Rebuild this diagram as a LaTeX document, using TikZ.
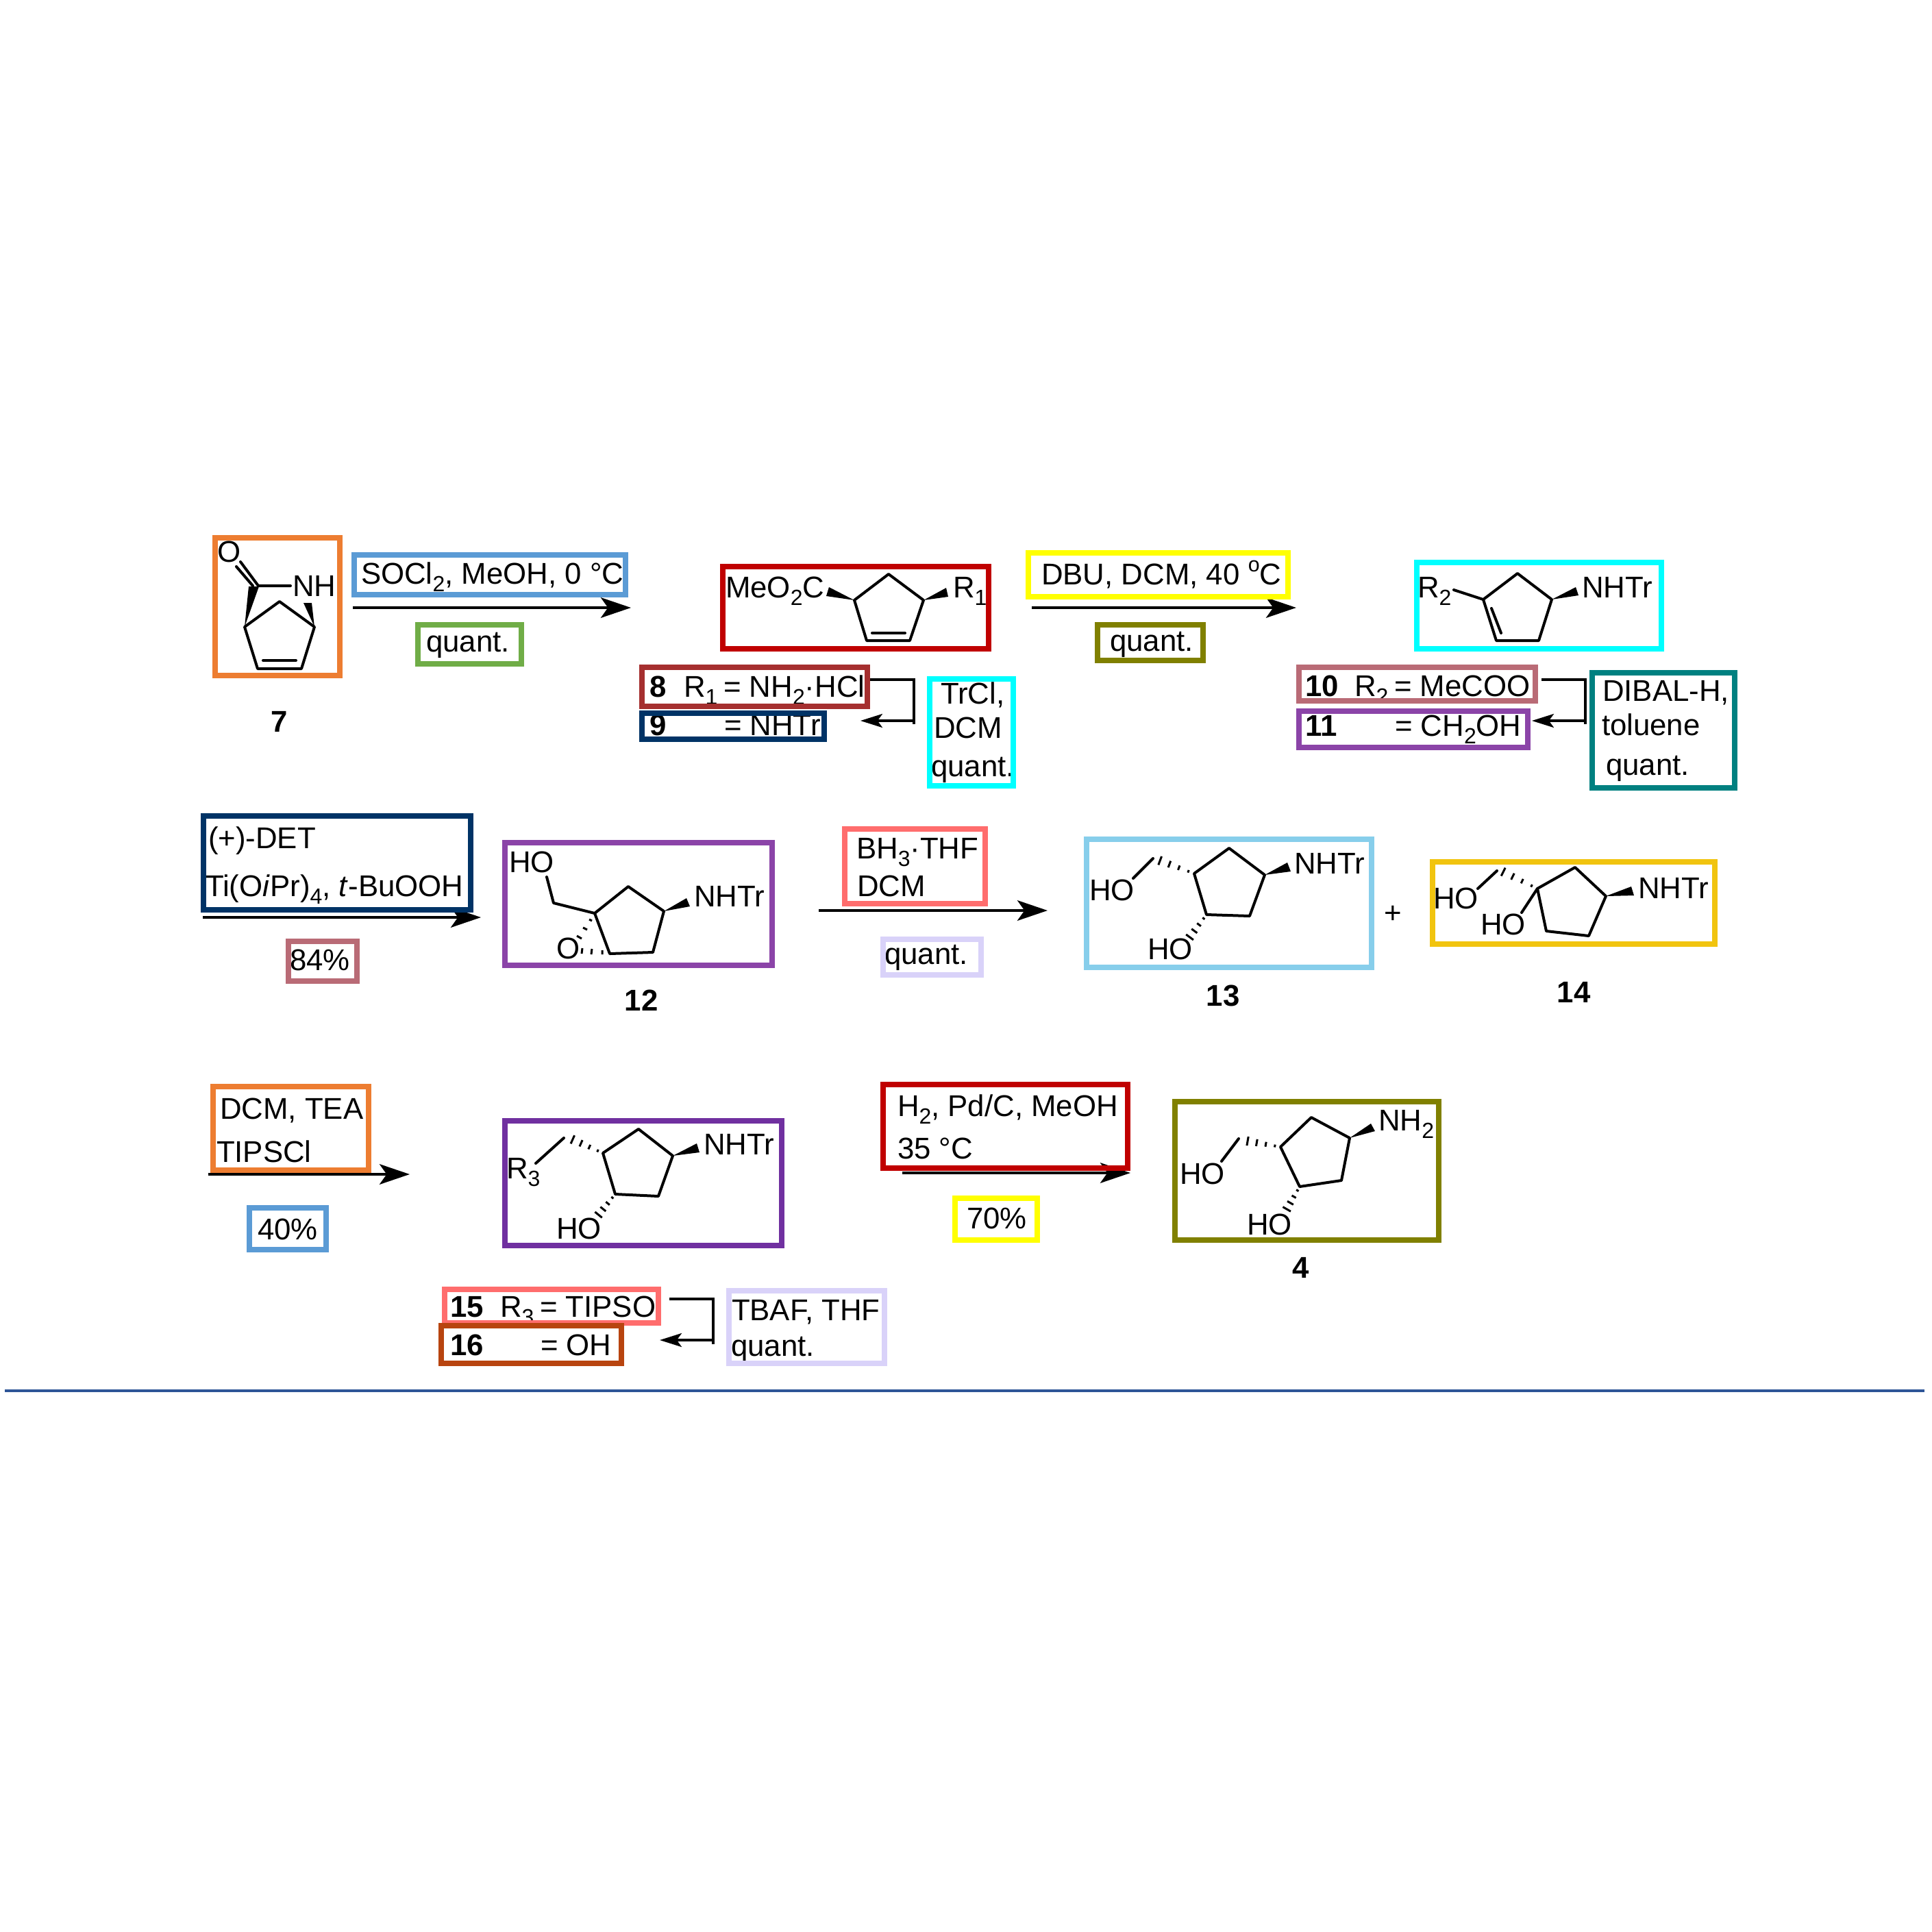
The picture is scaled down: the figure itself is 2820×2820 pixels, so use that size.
\documentclass[tikz,border=0pt]{standalone}
\usepackage{fontspec}
\setmainfont{Liberation Sans}
\usetikzlibrary{calc,arrows.meta}
\newcommand{\chemf}{\fontsize{10.95}{12}\selectfont}
\newcommand{\subs}[1]{\raisebox{-0.27em}{\fontsize{8}{9}\selectfont #1}}
\definecolor{cOrange}{HTML}{ED7D31}
\definecolor{cBlue}{HTML}{5B9BD5}
\definecolor{cGreen}{HTML}{70AD47}
\definecolor{cDarkRed}{HTML}{C00000}
\definecolor{cBrown}{HTML}{A52F2F}
\definecolor{cNavy}{HTML}{003366}
\definecolor{cCyan}{HTML}{00FFFF}
\definecolor{cYellow}{HTML}{FFFF00}
\definecolor{cOlive}{HTML}{808000}
\definecolor{cRose}{HTML}{B96B76}
\definecolor{cPurple}{HTML}{8B44A8}
\definecolor{cTeal}{HTML}{008080}
\definecolor{cSky}{HTML}{87CEEB}
\definecolor{cGold}{HTML}{F1C40F}
\definecolor{cPink}{HTML}{FF6D6D}
\definecolor{cLav}{HTML}{D9D2F9}
\definecolor{cDeep}{HTML}{7030A0}
\definecolor{cRust}{HTML}{B8440F}
\definecolor{cRule}{HTML}{2E5597}
\tikzset{
  txt/.style={anchor=base west,inner sep=0pt,outer sep=0pt,font=\chemf,xshift=-0.5pt},
  lbl/.style={anchor=base,inner sep=0pt,outer sep=0pt,font=\chemf\bfseries},
  blbl/.style={anchor=base west,inner sep=0pt,outer sep=0pt,font=\chemf\bfseries,xshift=-0.4pt},
  bond/.style={line width=1pt,line join=round,line cap=round},
  hashline/.style={line width=0.75pt},
  rxn/.style={line width=1pt,-{Stealth[length=11pt,width=7.4pt,inset=2.6pt]}},
  back/.style={line width=0.8pt,-{Stealth[length=8pt,width=5pt,inset=1.8pt]}},
  framed/.style={rectangle,line width=2pt,inner sep=0pt,outer sep=0pt}
}
\newcommand{\framebx}[6]{\node[framed,draw=#2,minimum width={(#5-#3)*0.25pt},minimum height={(#6-#4)*0.25pt}] (#1) at ({(#3+#5)/2},{(#4+#6)/2}) {};}
\newcommand{\hashb}[2]{\foreach \t in {0.16,0.42,0.68,0.94}{\pgfmathsetmacro{\w}{0.25*(1+6*\t)}\draw[hashline] ($(#1)!\t!(#2)!\w pt!90:(#2)$) -- ($(#1)!\t!(#2)!\w pt!-90:(#2)$);}}
\begin{document}
\begin{tikzpicture}[x=0.25pt,y=-0.25pt]
\useasboundingbox (0,0) rectangle (2820,2820);
\fill[white] (0,0) rectangle (2820,2820);

% ---------- rule
\coordinate (ruleA) at (7,2030);
\coordinate (ruleB) at (2809,2030);
\draw[cRule,line width=0.85pt] (ruleA) -- (ruleB);

% ---------- reaction arrows
\coordinate (a1s) at (515,887); \coordinate (a1e) at (921,887);
\coordinate (a2s) at (1506,887); \coordinate (a2e) at (1892,887);
\coordinate (a3s) at (296,1339); \coordinate (a3e) at (702,1339);
\coordinate (a4s) at (1195,1329); \coordinate (a4e) at (1529,1329);
\coordinate (a5s) at (304,1714); \coordinate (a5e) at (598,1714);
\coordinate (a6s) at (1317,1712); \coordinate (a6e) at (1650,1712);
\draw[rxn] (a1s) -- (a1e);
\draw[rxn] (a2s) -- (a2e);
\draw[rxn] (a3s) -- (a3e);
\draw[rxn] (a4s) -- (a4e);
\draw[rxn] (a5s) -- (a5e);
\draw[rxn] (a6s) -- (a6e);

% ---------- bracket arrows
\coordinate (k1a) at (1270,992); \coordinate (k1b) at (1334,992); \coordinate (k1c) at (1334,1057);
\coordinate (k1d) at (1334,1052); \coordinate (k1e) at (1256,1052);
\draw[line width=0.8pt] (k1a) -- (k1b) -- (k1c);
\draw[back] (k1d) -- (k1e);
\coordinate (k2a) at (2250,992); \coordinate (k2b) at (2314,992); \coordinate (k2c) at (2314,1057);
\coordinate (k2d) at (2314,1052); \coordinate (k2e) at (2236,1052);
\draw[line width=0.8pt] (k2a) -- (k2b) -- (k2c);
\draw[back] (k2d) -- (k2e);
\coordinate (k3a) at (977,1896); \coordinate (k3b) at (1041,1896); \coordinate (k3c) at (1041,1962);
\coordinate (k3d) at (1041,1956); \coordinate (k3e) at (963,1956);
\draw[line width=0.8pt] (k3a) -- (k3b) -- (k3c);
\draw[back] (k3d) -- (k3e);

% ---------- molecule 7
\coordinate (c7) at (377,855); \coordinate (c7n) at (424,855);
\coordinate (o7a) at (351,820); \coordinate (o7b) at (345,827); \coordinate (c7b) at (369,855);
\coordinate (r7a) at (357,915); \coordinate (r7b) at (376,976); \coordinate (r7c) at (440,976);
\coordinate (r7d) at (459,915); \coordinate (r7e) at (408,878);
\coordinate (r7f) at (384,964); \coordinate (r7g) at (432,964);
\draw[bond] (o7a) -- (c7) -- (c7n);
\draw[bond] (o7b) -- (c7b);
\draw[bond] (r7e) -- (r7a) -- (r7b) -- (r7c) -- (r7d) -- cycle;
\draw[bond] (r7f) -- (r7g);
\fill (r7a) -- (363,856) -- (378,856) -- cycle;
\fill (r7d) -- (443,880) -- (455,880) -- cycle;
\node[txt] (tO7) at (319,820) {O};
\node[txt] (tNH7) at (429,870) {NH};
\node[lbl] (l7) at (408,1068) {7};

% ---------- molecule 8/9
\coordinate (r8a) at (1247,876); \coordinate (r8b) at (1297,838); \coordinate (r8c) at (1348,876);
\coordinate (r8d) at (1328,935); \coordinate (r8e) at (1265,935);
\coordinate (r8f) at (1273,924); \coordinate (r8g) at (1321,924);
\draw[bond] (r8a) -- (r8b) -- (r8c) -- (r8d) -- (r8e) -- cycle;
\draw[bond] (r8f) -- (r8g);
\fill (r8a) -- (1210,857) -- (1206,870) -- cycle;
\fill (r8c) -- (1381,858) -- (1384,871) -- cycle;
\node[txt] (tMe) at (1061,872) {MeO\subs{2}C};
\node[txt] (tR1) at (1393,872) {R\subs{1}};
\node[blbl] (l8) at (950,1017) {8};
\node[txt] (t8a) at (1000,1017) {R\subs{1}};
\node[txt] (t8b) at (1058,1017) {= NH\subs{2}·HCl};
\node[blbl] (l9) at (950,1073) {9};
\node[txt] (t9b) at (1059,1073) {= NHTr};
\node[txt] (tTr1) at (1375,1027) {TrCl,};
\node[txt] (tTr2) at (1365,1077) {DCM};
\node[txt] (tTr3) at (1361,1133) {quant.};

% ---------- molecule 10/11
\coordinate (r10a) at (2165,875); \coordinate (r10b) at (2215,837); \coordinate (r10c) at (2265,875);
\coordinate (r10d) at (2246,935); \coordinate (r10e) at (2184,935);
\coordinate (r10f) at (2177,888); \coordinate (r10g) at (2191,924); \coordinate (r10h) at (2122,861);
\draw[bond] (r10a) -- (r10b) -- (r10c) -- (r10d) -- (r10e) -- cycle;
\draw[bond] (r10f) -- (r10g);
\draw[bond] (r10a) -- (r10h);
\fill (r10c) -- (2300,857) -- (2304,869) -- cycle;
\node[txt] (tR2) at (2071,872) {R\subs{2}};
\node[txt] (tNH10) at (2311,872) {NHTr};
\node[blbl] (l10) at (1907,1016) {10};
\node[txt] (t10a) at (1979,1016) {R\subs{2}};
\node[txt] (t10b) at (2037,1016) {= MeCOO};
\node[blbl] (l11) at (1907,1074) {11};
\node[txt] (t11b) at (2038,1074) {= CH\subs{2}OH};
\node[txt] (tDi1) at (2341,1023) {DIBAL-H,};
\node[txt] (tDi2) at (2340,1073) {toluene};
\node[txt] (tDi3) at (2346,1131) {quant.};

% ---------- molecule 12
\coordinate (r12a) at (868,1333); \coordinate (r12b) at (917,1294); \coordinate (r12c) at (969,1330);
\coordinate (r12d) at (953,1390); \coordinate (r12e) at (890,1392);
\coordinate (s12a) at (808,1318); \coordinate (s12b) at (798,1280);
\draw[bond] (r12a) -- (r12b) -- (r12c) -- (r12d) -- (r12e) -- cycle;
\draw[bond] (r12a) -- (s12a) -- (s12b);
\fill (r12c) -- (1002,1311) -- (1007,1323) -- cycle;
\draw[hashline] (860,1342) -- (864,1344) (851,1354) -- (857,1357) (842,1366) -- (849,1370);
\draw[hashline] (879,1387) -- (879,1393) (864,1385) -- (863,1393) (850,1384) -- (849,1392);
\node[txt] (tHO12) at (745,1273) {HO};
\node[txt] (tNH12) at (1015,1323) {NHTr};
\node[txt] (tO12) at (814,1399) {O};
\node[lbl] (l12) at (936,1475) {12};

% ---------- molecule 13
\coordinate (r13a) at (1743,1275); \coordinate (r13b) at (1794,1238); \coordinate (r13c) at (1846,1277);
\coordinate (r13d) at (1824,1337); \coordinate (r13e) at (1761,1335);
\coordinate (h13a) at (1690,1255); \coordinate (s13a) at (1683,1253); \coordinate (s13b) at (1654,1282);
\coordinate (h13b) at (1735,1370);
\draw[bond] (r13a) -- (r13b) -- (r13c) -- (r13d) -- (r13e) -- cycle;
\draw[bond] (s13a) -- (s13b);
\fill (r13c) -- (1879,1259) -- (1884,1272) -- cycle;
\hashb{r13a}{h13a}
\hashb{r13e}{h13b}
\node[txt] (tHO13a) at (1592,1314) {HO};
\node[txt] (tHO13b) at (1677,1400) {HO};
\node[txt] (tNH13) at (1891,1275) {NHTr};
\node[lbl] (l13) at (1785,1468) {13};
\node[anchor=center,inner sep=0pt,font=\chemf] (tPlus) at (2033,1335) {+};

% ---------- molecule 14
\coordinate (r14a) at (2244,1297); \coordinate (r14b) at (2299,1266); \coordinate (r14c) at (2344,1308);
\coordinate (r14d) at (2319,1366); \coordinate (r14e) at (2257,1359);
\coordinate (h14a) at (2191,1271); \coordinate (s14a) at (2185,1271); \coordinate (s14b) at (2157,1297);
\coordinate (s14c) at (2221,1332);
\draw[bond] (r14a) -- (r14b) -- (r14c) -- (r14d) -- (r14e) -- cycle;
\draw[bond] (s14a) -- (s14b);
\draw[bond] (r14a) -- (s14c);
\fill (r14c) -- (2381,1294) -- (2385,1307) -- cycle;
\hashb{r14a}{h14a}
\node[txt] (tHO14a) at (2094,1326) {HO};
\node[txt] (tHO14b) at (2163,1364) {HO};
\node[txt] (tNH14) at (2393,1311) {NHTr};
\node[lbl] (l14) at (2297,1463) {14};

% ---------- molecule 15/16
\coordinate (r15a) at (880,1683); \coordinate (r15b) at (932,1648); \coordinate (r15c) at (982,1687);
\coordinate (r15d) at (961,1746); \coordinate (r15e) at (898,1743);
\coordinate (h15a) at (833,1662); \coordinate (s15a) at (823,1661); \coordinate (s15b) at (782,1698);
\coordinate (h15b) at (872,1775);
\draw[bond] (r15a) -- (r15b) -- (r15c) -- (r15d) -- (r15e) -- cycle;
\draw[bond] (s15a) -- (s15b);
\fill (r15c) -- (1017,1669) -- (1021,1682) -- cycle;
\hashb{r15a}{h15a}
\hashb{r15e}{h15b}
\node[txt] (tR3) at (741,1720) {R\subs{3}};
\node[txt] (tHO15) at (814,1808) {HO};
\node[txt] (tNH15) at (1029,1685) {NHTr};
\node[blbl] (l15) at (659,1922) {15};
\node[txt] (t15a) at (732,1922) {R\subs{3}};
\node[txt] (t15b) at (790,1922) {= TIPSO};
\node[blbl] (l16) at (659,1978) {16};
\node[txt] (t16b) at (791,1978) {= OH};
\node[txt] (tTB1) at (1070,1927) {TBAF, THF};
\node[txt] (tTB2) at (1069,1979) {quant.};

% ---------- molecule 4
\coordinate (r4a) at (1869,1674); \coordinate (r4b) at (1914,1631); \coordinate (r4c) at (1970,1661);
\coordinate (r4d) at (1958,1723); \coordinate (r4e) at (1897,1732);
\coordinate (h4a) at (1818,1665); \coordinate (s4a) at (1808,1662); \coordinate (s4b) at (1783,1695);
\coordinate (h4b) at (1877,1767);
\draw[bond] (r4a) -- (r4b) -- (r4c) -- (r4d) -- (r4e) -- cycle;
\draw[bond] (s4a) -- (s4b);
\fill (r4c) -- (2001,1640) -- (2007,1651) -- cycle;
\hashb{r4a}{h4a}
\hashb{r4e}{h4b}
\node[txt] (tHO4a) at (1724,1728) {HO};
\node[txt] (tHO4b) at (1822,1802) {HO};
\node[txt] (tNH4) at (2014,1650) {NH\subs{2}};
\node[lbl] (l4) at (1899,1865) {4};

% ---------- reagent texts
\node[txt] (tSOCl) at (529,852) {SOCl\subs{2}, MeOH, 0 °C};
\node[txt] (tQ1) at (624,951) {quant.};
\node[txt] (tDBU) at (1522,853) {DBU, DCM, 40 \raisebox{0.42em}{\fontsize{7.6}{9}\selectfont o}C};
\node[txt] (tQ2) at (1622,950) {quant.};
\node[txt] (tDET) at (306,1238) {(+)-DET};
\node[txt] (tTi) at (302,1308) {Ti(O\textit{i}Pr)\subs{4}, \textit{t}-BuOOH};
\node[txt] (t84) at (425,1416) {84\%};
\node[txt] (tBH) at (1252,1253) {BH\subs{3}·THF};
\node[txt] (tDCMb) at (1253,1308) {DCM};
\node[txt] (tQ3) at (1293,1407) {quant.};
\node[txt] (tDT) at (323,1633) {DCM, TEA};
\node[txt] (tTP) at (318,1696) {TIPSCl};
\node[txt] (t40) at (378,1809) {40\%};
\node[txt] (tH2) at (1312,1629) {H\subs{2}, Pd/C, MeOH};
\node[txt] (t35) at (1312,1691) {35 °C};
\node[txt] (t70) at (1413,1793) {70\%};

% ---------- coloured frames (on top of the texts)
\framebx{b7}{cOrange}{314}{785}{496}{986}
\framebx{bSOCl}{cBlue}{517}{810}{913}{868}
\framebx{bQ1}{cGreen}{610}{912}{761}{969}
\framebx{bM8}{cDarkRed}{1055}{827}{1443}{947}
\framebx{b8}{cBrown}{937}{974}{1266}{1031}
\framebx{b9}{cNavy}{937}{1041}{1203}{1079}
\framebx{bTr}{cCyan}{1357}{991}{1479}{1147}
\framebx{bDBU}{cYellow}{1501}{807}{1880}{871}
\framebx{bQ2}{cOlive}{1602}{912}{1756}{964}
\framebx{bM10}{cCyan}{2068}{821}{2425}{947}
\framebx{b10}{cRose}{1896}{974}{2241}{1023}
\framebx{b11}{cPurple}{1896}{1038}{2230}{1091}
\framebx{bDi}{cTeal}{2324}{982}{2532}{1150}
\framebx{bDET}{cNavy}{297}{1191}{687}{1328}
\framebx{b84}{cRose}{421}{1374}{521}{1432}
\framebx{b12}{cPurple}{737}{1230}{1127}{1409}
\framebx{bBH}{cPink}{1233}{1210}{1438}{1319}
\framebx{bQ3}{cLav}{1289}{1371}{1432}{1423}
\framebx{b13}{cSky}{1586}{1225}{2002}{1412}
\framebx{b14}{cGold}{2091}{1258}{2503}{1378}
\framebx{bDT}{cOrange}{311}{1586}{538}{1708}
\framebx{b40}{cBlue}{364}{1763}{476}{1824}
\framebx{bM15}{cDeep}{737}{1636}{1141}{1818}
\framebx{bH2}{cDarkRed}{1289}{1583}{1646}{1705}
\framebx{b70}{cYellow}{1394}{1749}{1514}{1810}
\framebx{b4}{cOlive}{1715}{1608}{2100}{1810}
\framebx{b15}{cPink}{649}{1882}{961}{1931}
\framebx{b16}{cRust}{644}{1935}{907}{1990}
\framebx{bTB}{cLav}{1064}{1884}{1291}{1990}
\end{tikzpicture}
\end{document}
